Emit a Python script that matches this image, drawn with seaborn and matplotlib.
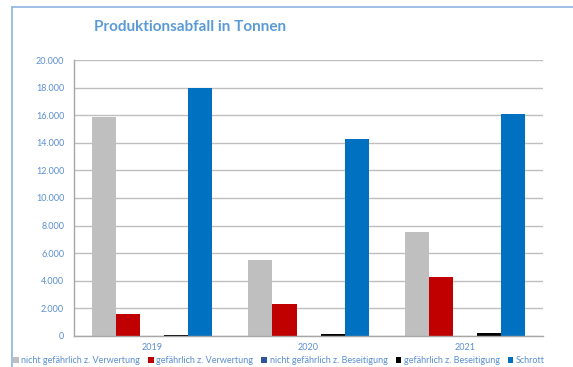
import matplotlib
matplotlib.use("Agg")
import matplotlib.pyplot as plt
from matplotlib.lines import Line2D
from matplotlib.ticker import FuncFormatter, MultipleLocator
import seaborn as sns
import pandas as pd

years = ["2019", "2020", "2021"]
series = ["nicht gefährlich z. Verwertung", "gefährlich z. Verwertung",
          "nicht gefährlich z. Beseitigung", "gefährlich z. Beseitigung", "Schrott"]
nicht_gef_verwertung = [15870, 5500, 7500]
gef_verwertung = [1600, 2300, 4300]
nicht_gef_beseitigung = [0, 0, 0]
gef_beseitigung = [80, 150, 220]
schrott = [18000, 14300, 16100]
colors = ["#BFBFBF", "#C00000", "#2F5597", "#000000", "#0070C0"]

values = [nicht_gef_verwertung, gef_verwertung, nicht_gef_beseitigung, gef_beseitigung, schrott]
rows = []
for s, vals in zip(series, values):
    for y, v in zip(years, vals):
        rows.append({"Jahr": y, "Serie": s, "Tonnen": v})
df = pd.DataFrame(rows)

sns.set_theme(style="white")
plt.rcParams["font.family"] = ["Lato", "DejaVu Sans"]

fig = plt.figure(figsize=(5.73, 3.67), dpi=100)
ax = fig.add_axes([0.129, 0.0845, 0.819, 0.752])

sns.barplot(data=df, x="Jahr", y="Tonnen", hue="Serie", hue_order=series,
            palette=colors, width=0.77, gap=0, saturation=1, ax=ax,
            edgecolor="none", linewidth=0, errorbar=None)

txt_blue = "#5B8FD0"
ax.set_ylim(0, 20000)
ax.set_xlim(-0.5, 2.5)
ax.yaxis.set_major_locator(MultipleLocator(2000))
ax.yaxis.set_major_formatter(FuncFormatter(lambda v, p: f"{int(v):,}".replace(",", ".")))
ax.grid(axis="y", color="#BFBFBF", linewidth=1.0)
ax.set_axisbelow(True)
for side in ["top", "right"]:
    ax.spines[side].set_visible(False)
ax.spines["left"].set_color("#A6A6A6")
ax.spines["bottom"].set_color("#A6A6A6")
ax.spines["left"].set_linewidth(1.0)
ax.spines["bottom"].set_linewidth(1.0)
ax.tick_params(axis="y", colors=txt_blue, labelsize=6.5, length=3, color="#BFBFBF", pad=4)
ax.tick_params(axis="x", colors=txt_blue, labelsize=6.5, length=0, pad=5)
for lbl in ax.get_yticklabels() + ax.get_xticklabels():
    lbl.set_color(txt_blue)
ax.set_xlabel("")
ax.set_ylabel("")

handles, labels = ax.get_legend_handles_labels()
ax.get_legend().remove()
leg = fig.legend(handles, labels, loc="center", bbox_to_anchor=(0.487, 0.018), ncol=5,
                 frameon=False, fontsize=6.5, handlelength=0.6, handleheight=0.6,
                 handletextpad=0.3, columnspacing=0.9, borderaxespad=0)
for t in leg.get_texts():
    t.set_color(txt_blue)

fig.text(0.331, 0.926, "Produktionsabfall in Tonnen", ha="center", va="center",
         fontsize=11, fontweight="bold", color="#5B9BD5")

border = "#8DB3E2"
fig.add_artist(Line2D([12 / 573, 1.0], [1 - 7 / 367, 1 - 7 / 367], color=border, linewidth=1.2,
                      transform=fig.transFigure))
fig.add_artist(Line2D([12 / 573, 12 / 573], [0, 1 - 7 / 367], color=border, linewidth=1.2,
                      transform=fig.transFigure))

fig.savefig("out.png", dpi=100)
